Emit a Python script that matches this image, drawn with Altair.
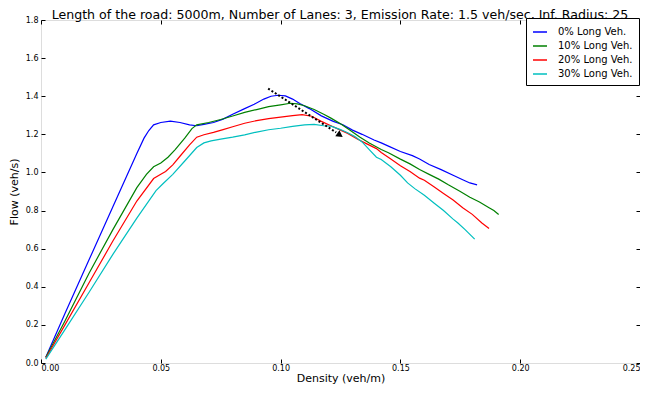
import altair as alt
import pandas as pd

series_names = ["0% Long Veh.", "10% Long Veh.", "20% Long Veh.", "30% Long Veh."]
series_colors = ["#0000ff", "#008000", "#ff0000", "#00bfbf"]

x0 = [0.002, 0.010, 0.020, 0.030, 0.040, 0.043, 0.045, 0.047, 0.050, 0.054, 0.058, 0.062, 0.065,
      0.068, 0.072, 0.076, 0.080, 0.085, 0.089, 0.093, 0.096, 0.099, 0.102, 0.105, 0.108, 0.112,
      0.117, 0.122, 0.126, 0.130, 0.134, 0.139, 0.142, 0.145, 0.150, 0.155, 0.158, 0.162, 0.167,
      0.172, 0.176, 0.179, 0.182]
y0 = [0.03, 0.26, 0.54, 0.82, 1.10, 1.18, 1.22, 1.25, 1.262, 1.269, 1.262, 1.250, 1.245,
      1.252, 1.262, 1.280, 1.305, 1.335, 1.358, 1.385, 1.400, 1.405, 1.402, 1.385, 1.362, 1.335,
      1.297, 1.268, 1.250, 1.222, 1.200, 1.170, 1.155, 1.138, 1.110, 1.088, 1.071, 1.042, 1.015,
      0.985, 0.962, 0.945, 0.935]

x10 = [0.002, 0.010, 0.020, 0.030, 0.040, 0.044, 0.047, 0.050, 0.053, 0.056, 0.060, 0.063, 0.065,
       0.070, 0.075, 0.080, 0.085, 0.090, 0.095, 0.100, 0.104, 0.107, 0.110, 0.114, 0.118, 0.121,
       0.125, 0.129, 0.133, 0.137, 0.142, 0.145, 0.150, 0.154, 0.158, 0.162, 0.166, 0.170, 0.175,
       0.179, 0.183, 0.187, 0.189, 0.191]
y10 = [0.03, 0.22, 0.47, 0.70, 0.92, 0.99, 1.03, 1.050, 1.080, 1.120, 1.180, 1.230, 1.250,
       1.262, 1.278, 1.296, 1.315, 1.330, 1.345, 1.355, 1.363, 1.360, 1.350, 1.330, 1.305, 1.285,
       1.255, 1.222, 1.186, 1.155, 1.120, 1.103, 1.070, 1.045, 1.015, 0.990, 0.965, 0.935, 0.900,
       0.870, 0.845, 0.815, 0.800, 0.779]

x20 = [0.002, 0.010, 0.020, 0.030, 0.040, 0.047, 0.050, 0.052, 0.055, 0.058, 0.062, 0.065, 0.068,
       0.072, 0.076, 0.080, 0.085, 0.090, 0.095, 0.100, 0.105, 0.109, 0.113, 0.117, 0.121, 0.125,
       0.128, 0.132, 0.136, 0.140, 0.142, 0.146, 0.150, 0.154, 0.158, 0.160, 0.164, 0.168, 0.172,
       0.176, 0.180, 0.184, 0.187]
y20 = [0.025, 0.20, 0.42, 0.64, 0.85, 0.968, 0.990, 1.005, 1.040, 1.085, 1.145, 1.185, 1.198,
       1.210, 1.225, 1.240, 1.258, 1.272, 1.282, 1.290, 1.298, 1.303, 1.295, 1.268, 1.245, 1.222,
       1.205, 1.175, 1.150, 1.125, 1.105, 1.070, 1.035, 1.005, 0.970, 0.959, 0.925, 0.890, 0.855,
       0.815, 0.780, 0.735, 0.706]

x30 = [0.002, 0.010, 0.020, 0.030, 0.040, 0.048, 0.051, 0.055, 0.060, 0.065, 0.068, 0.071, 0.075,
       0.080, 0.085, 0.090, 0.095, 0.100, 0.105, 0.110, 0.114, 0.118, 0.121, 0.125, 0.128, 0.131,
       0.134, 0.137, 0.140, 0.142, 0.146, 0.150, 0.153, 0.156, 0.160, 0.164, 0.168, 0.172, 0.174,
       0.177, 0.181]
y30 = [0.02, 0.175, 0.37, 0.57, 0.76, 0.905, 0.942, 0.99, 1.060, 1.131, 1.155, 1.166, 1.175,
       1.185, 1.197, 1.212, 1.224, 1.232, 1.242, 1.250, 1.252, 1.245, 1.243, 1.225, 1.208, 1.188,
       1.160, 1.120, 1.080, 1.068, 1.030, 0.985, 0.945, 0.915, 0.880, 0.840, 0.800, 0.755, 0.735,
       0.700, 0.650]

arrow_x = [0.0948, 0.1232]
arrow_y = [1.440, 1.210]
arrow_head_x = [0.1248]
arrow_head_y = [1.196]

x_ticks = [0.0, 0.05, 0.10, 0.15, 0.20, 0.25]
y_ticks = [0.0, 0.2, 0.4, 0.6, 0.8, 1.0, 1.2, 1.4, 1.6, 1.8]

title_text = "Length of the road: 5000m, Number of Lanes: 3, Emission Rate: 1.5 veh/sec, Inf. Radius: 25"

rows = []
for name, xs, ys in zip(series_names, [x0, x10, x20, x30], [y0, y10, y20, y30]):
    for i, (a, b) in enumerate(zip(xs, ys)):
        rows.append({"series": name, "density": a, "flow": b, "i": i})
df = pd.DataFrame(rows)
arrow_df = pd.DataFrame({"density": arrow_x, "flow": arrow_y})
head_df = pd.DataFrame({"density": arrow_head_x, "flow": arrow_head_y})
title_df = pd.DataFrame({"t": [title_text]})

FONT = "DejaVu Sans"
xscale = alt.Scale(domain=[0, 0.25], nice=False, zero=False)
yscale = alt.Scale(domain=[0, 1.8], nice=False, zero=False)

common_axis = dict(domain=False, grid=False, tickSize=4, offset=-4, tickColor="black",
                   labelColor="black", labelFont=FONT, labelFontSize=8, titleFont=FONT,
                   titleFontSize=11, titleFontWeight="normal", titleColor="black")

lines = alt.Chart(df).mark_line(strokeWidth=1.2).encode(
    x=alt.X("density:Q", scale=xscale,
            axis=alt.Axis(orient="bottom", values=x_ticks, format=".2f", labelPadding=1,
                          title="Density (veh/m)", titlePadding=0, **common_axis)),
    y=alt.Y("flow:Q", scale=yscale,
            axis=alt.Axis(orient="left", values=y_ticks, format=".1f", labelPadding=3,
                          title="Flow (veh/s)", titlePadding=6, **common_axis)),
    color=alt.Color("series:N",
                    scale=alt.Scale(domain=series_names, range=series_colors),
                    legend=alt.Legend(title=None, orient="none", legendX=485, legendY=-2,
                                      symbolType="stroke", symbolSize=196, symbolStrokeWidth=1.5,
                                      labelFont=FONT, labelFontSize=10, labelColor="black",
                                      strokeColor="black", fillColor="white", padding=6,
                                      rowPadding=1, labelOffset=10, cornerRadius=0)),
    order="i:Q",
)

arrow = alt.Chart(arrow_df).mark_line(color="black", strokeWidth=2, strokeDash=[2, 2]).encode(
    x=alt.X("density:Q", scale=xscale,
            axis=alt.Axis(orient="top", values=x_ticks, labels=False, title=None, **common_axis)),
    y=alt.Y("flow:Q", scale=yscale,
            axis=alt.Axis(orient="right", values=y_ticks, labels=False, title=None, **common_axis)),
)

head = alt.Chart(head_df).mark_point(shape="triangle-right", angle=34, filled=True, size=55,
                                     color="black", opacity=1).encode(
    x=alt.X("density:Q", scale=xscale, axis=None),
    y=alt.Y("flow:Q", scale=yscale, axis=None),
)

title = alt.Chart(title_df).mark_text(font=FONT, fontSize=12.6, color="black", align="center",
                                      baseline="top").encode(
    text="t:N", x=alt.value(299), y=alt.value(-11.5),
)

chart = alt.layer(lines, arrow, head, title).resolve_axis(x="independent", y="independent").properties(
    width=599, height=343,
    autosize=alt.AutoSizeParams(type="none"),
    padding={"left": 33, "top": 12, "right": 0, "bottom": 23},
).configure_view(stroke="black", strokeWidth=1).configure(background="white")

chart.save("out.html", embed_options={"renderer": "svg", "actions": False})
